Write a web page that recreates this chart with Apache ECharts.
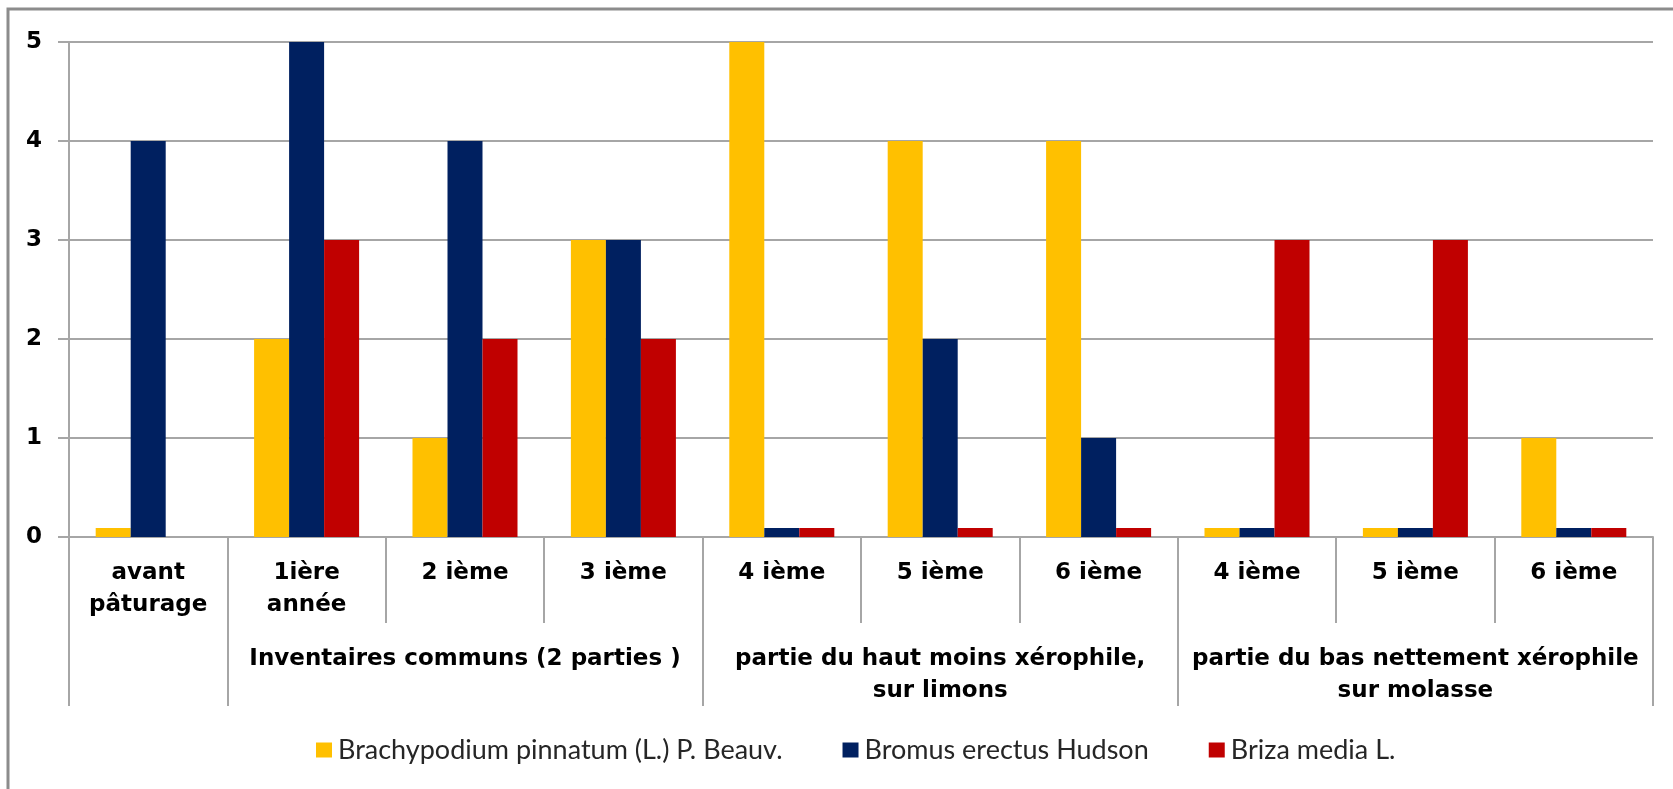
<!DOCTYPE html>
<html>
<head>
<meta charset="utf-8">
<script src="https://cdn.jsdelivr.net/npm/echarts@6/dist/echarts.min.js"></script>
<style>
  html, body { margin: 0; padding: 0; background: #ffffff; }
  #chart { width: 1673px; height: 789px; }
</style>
</head>
<body>
<div id="chart"></div>
<script>
// Inventory stages (inner axis level)
const categories = [
  'avant\npâturage', '1ière\nannée', '2 ième', '3 ième',
  '4 ième', '5 ième', '6 ième',
  '4 ième', '5 ième', '6 ième'
];
// Outer axis level: group titles placed on the middle stage of each group
const groupLabels = [
  '', '', 'Inventaires communs (2 parties )', '',
  '', 'partie du haut moins xérophile,\nsur limons', '',
  '', 'partie du bas nettement xérophile\nsur molasse', ''
];
// Stage indexes where a new group starts
const groupStarts = [0, 1, 4, 7];

const seriesNames = [
  'Brachypodium pinnatum (L.) P. Beauv.',
  'Bromus erectus Hudson',
  'Briza media L.'
];
const brachypodium = [0.09, 2, 1, 3, 5, 4, 4, 0.09, 0.09, 1];
const bromus       = [4, 5, 4, 3, 0.09, 2, 1, 0.09, 0.09, 0.09];
const briza        = [null, 3, 2, 2, 0.09, 0.09, 0.09, 3, 3, 0.09];

const yTicks = { min: 0, max: 5, interval: 1 };

const colors = ['#FFC000', '#002060', '#C00000'];
const lineGray = '#a6a6a6';
const labelFont = 'DejaVu Sans';

const chart = echarts.init(document.getElementById('chart'), null, { renderer: 'canvas' });

const values = [brachypodium, bromus, briza];

chart.setOption({
  animation: false,
  backgroundColor: '#ffffff',
  grid: { left: 69, right: 20, top: 42, bottom: 252, containLabel: false },
  legend: {
    left: 311,
    top: 730,
    itemWidth: 16,
    itemHeight: 15,
    itemGap: 60,
    icon: 'rect',
    textStyle: { fontFamily: 'Lato', fontSize: 27, color: '#262626', lineHeight: 30, padding: [0, 0, 0, 1] },
    data: seriesNames
  },
  xAxis: [
    {
      type: 'category',
      data: categories,
      position: 'bottom',
      axisLine: { show: true, lineStyle: { color: lineGray, width: 2 } },
      axisTick: { show: true, interval: 0, length: 86, lineStyle: { color: lineGray, width: 2 } },
      axisLabel: {
        interval: 0,
        margin: 20,
        fontFamily: labelFont,
        fontWeight: 'bold',
        fontSize: 23,
        lineHeight: 32,
        color: '#000000',
        align: 'center'
      },
      splitLine: { show: false }
    },
    {
      type: 'category',
      data: groupLabels,
      position: 'bottom',
      gridIndex: 0,
      axisLine: { show: false },
      axisTick: {
        show: true,
        interval: function (index) { return groupStarts.indexOf(index) >= 0; },
        length: 169,
        lineStyle: { color: lineGray, width: 2 }
      },
      axisLabel: {
        interval: 0,
        margin: 106,
        fontFamily: labelFont,
        fontWeight: 'bold',
        fontSize: 23,
        lineHeight: 32,
        color: '#000000',
        align: 'center'
      },
      splitLine: { show: false }
    }
  ],
  yAxis: {
    type: 'value',
    min: yTicks.min,
    max: yTicks.max,
    interval: yTicks.interval,
    axisLine: { show: true, lineStyle: { color: lineGray, width: 2 } },
    axisTick: { show: true, inside: false, length: 11, lineStyle: { color: lineGray, width: 2 } },
    axisLabel: {
      margin: 27,
      fontFamily: labelFont,
      fontWeight: 'bold',
      fontSize: 23,
      color: '#000000'
    },
    splitLine: { show: true, lineStyle: { color: lineGray, width: 2 } }
  },
  series: seriesNames.map(function (name, i) {
    return {
      name: name,
      type: 'bar',
      xAxisIndex: 0,
      data: values[i],
      barGap: '0%',
      barCategoryGap: '33.7%',
      itemStyle: { color: colors[i] }
    };
  }),
  graphic: [
    {
      type: 'polyline',
      silent: true,
      shape: { points: [[8, 789], [8, 9], [1673, 9]] },
      style: { stroke: '#8c8c8c', lineWidth: 3, fill: null }
    }
  ]
});
</script>
</body>
</html>
